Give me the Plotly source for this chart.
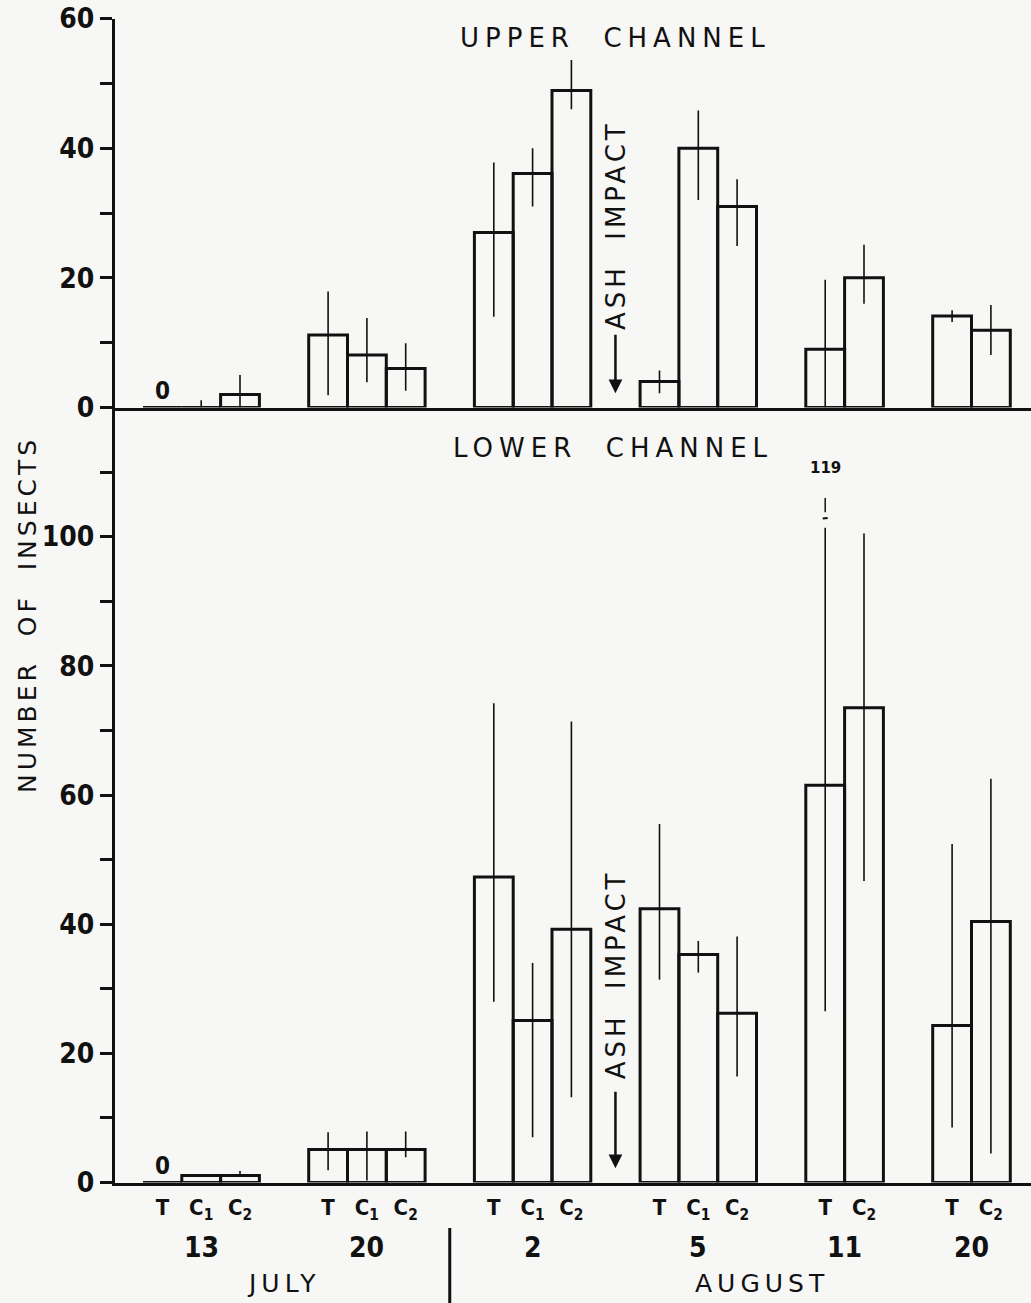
import plotly.graph_objects as go

# ---------------- data ----------------
dates = ["13", "20", "2", "5", "11", "20"]
months = ["JULY", "JULY", "AUGUST", "AUGUST", "AUGUST", "AUGUST"]
sites = [["T", "C1", "C2"], ["T", "C1", "C2"], ["T", "C1", "C2"],
         ["T", "C1", "C2"], ["T", "C2"], ["T", "C2"]]

upper_mean = [0, 0, 2.0, 11.2, 8.1, 6.0, 27.0, 36.1, 48.9, 4.0, 40.0, 31.0, 9.0, 20.0, 14.1, 11.9]
upper_hi = [0, 1.1, 5.0, 17.9, 13.8, 9.9, 37.8, 40.0, 53.6, 5.7, 45.8, 35.2, 19.7, 25.1, 15.0, 15.8]
upper_lo = [0, 0, 0, 1.9, 3.9, 2.6, 14.0, 31.0, 46.0, 2.2, 32.0, 24.9, 0, 16.0, 13.2, 8.1]

lower_mean = [0, 1.1, 1.1, 5.1, 5.1, 5.1, 47.3, 25.1, 39.2, 42.4, 35.3, 26.2, 61.5, 73.5, 24.3, 40.4]
lower_hi = [0, 1.1, 1.8, 7.8, 7.9, 7.9, 74.2, 34.0, 71.4, 55.5, 37.4, 38.1, 119, 100.5, 52.4, 62.5]
lower_lo = [0, 1.1, 1.1, 1.9, 0.3, 3.9, 28.0, 7.0, 13.2, 31.4, 32.5, 16.4, 26.5, 46.7, 8.5, 4.5]

ash_after_group = 2          # ash impact between Aug 2 and Aug 5
lower_break = 101.4          # error bars above this are drawn broken with value label

# ---------------- layout helpers ----------------
W, H = 1031, 1303
ML = 115
BAR_W = 38.8
GAP = 49.3
START = 28

centers, labels, group_bounds = [], [], []
pos = START
for g in sites:
    s = pos
    for i, site in enumerate(g):
        centers.append(pos + (i + 0.5) * BAR_W)
        labels.append({"T": "T", "C1": "C<sub>1</sub>", "C2": "C<sub>2</sub>"}[site])
    pos += len(g) * BAR_W
    group_bounds.append((s, pos))
    pos += GAP
group_centers = []
k = 0
for g in sites:
    cs = centers[k:k + len(g)]
    group_centers.append(sum(cs) / len(cs))
    k += len(g)

NUM_FONT = "Liberation Sans Narrow, DejaVu Sans Condensed, Noto Sans Condensed, Roboto Condensed, Liberation Sans, sans-serif"
TXT_FONT = "DejaVu Sans, Noto Sans, sans-serif"


def yfrac(px):
    return 1 - px / H


fig = go.Figure()


def add_bars(mean, hi, lo, xa, ya, cap=None):
    plus, minus = [], []
    for m, h, l in zip(mean, hi, lo):
        hh = min(h, cap) if cap is not None else h
        plus.append(max(hh - m, 0))
        minus.append(max(m - l, 0))
    fig.add_trace(go.Bar(
        x=centers, y=mean, width=BAR_W, xaxis=xa, yaxis=ya,
        marker=dict(color="rgba(255,255,255,0)", line=dict(color="#111", width=3)),
        error_y=dict(type="data", symmetric=False, array=plus, arrayminus=minus,
                     color="#111", thickness=1.6, width=0),
        showlegend=False, hoverinfo="skip"))


add_bars(upper_mean, upper_hi, upper_lo, "x2", "y2")
add_bars(lower_mean, lower_hi, lower_lo, "x", "y", cap=lower_break)

bg = "#f7f7f5"
y_low_bot = yfrac(1182.5)
y_mid = yfrac(407.5)
y_up_top = yfrac(18.5)

axis_common = dict(showgrid=False, zeroline=False, linecolor="#111", linewidth=3)
fig.update_layout(
    width=W, height=H, margin=dict(l=ML, r=0, t=0, b=0, autoexpand=False),
    paper_bgcolor=bg, plot_bgcolor=bg, barmode="overlay", showlegend=False,
    xaxis=dict(domain=[0, 1], range=[0, W - ML], anchor="y", showline=True,
               tickvals=centers, ticktext=labels, ticks="outside", ticklen=3,
               tickcolor="rgba(0,0,0,0)",
               tickfont=dict(family=NUM_FONT, size=22, color="#111", weight="bold"),
               **axis_common),
    xaxis2=dict(domain=[0, 1], range=[0, W - ML], anchor="y2", matches="x",
                showline=True, showticklabels=False, ticks="",
                **axis_common),
    yaxis=dict(domain=[y_low_bot, y_mid], range=[0, 120], anchor="x", showline=True,
               tickvals=list(range(0, 120, 10)),
               ticktext=[str(v) if v % 20 == 0 else "" for v in range(0, 120, 10)],
               ticks="outside", ticklen=12, tickwidth=2.5, tickcolor="#111",
               tickfont=dict(family=NUM_FONT, size=28, color="#111", weight="bold"),
               **axis_common),
    yaxis2=dict(domain=[y_mid, y_up_top], range=[0, 60], anchor="x2", showline=True,
                tickvals=list(range(0, 70, 10)),
                ticktext=[str(v) if v % 20 == 0 else "" for v in range(0, 70, 10)],
                ticks="outside", ticklen=12, tickwidth=2.5, tickcolor="#111",
                tickfont=dict(family=NUM_FONT, size=28, color="#111", weight="bold"),
                **axis_common),
)

ann = []
sp = '<span style="letter-spacing:%dpx">%s</span>'
C = dict(xanchor="center", yanchor="middle", showarrow=False)
# panel titles
ann.append(dict(text=sp % (6, "UPPER&nbsp;&nbsp;CHANNEL"), x=(615 - ML) / (W - ML), y=yfrac(38),
                xref="paper", yref="paper", font=dict(family=TXT_FONT, size=26, color="#111"), **C))
ann.append(dict(text=sp % (6, "LOWER&nbsp;&nbsp;CHANNEL"), x=(613 - ML) / (W - ML), y=yfrac(448),
                xref="paper", yref="paper", font=dict(family=TXT_FONT, size=26, color="#111"), **C))
# y title
ann.append(dict(text=sp % (4, "NUMBER&nbsp;&nbsp;OF&nbsp;&nbsp;INSECTS"), x=(28 - ML) / (W - ML), y=yfrac(615),
                xref="paper", yref="paper", textangle=-90,
                font=dict(family=TXT_FONT, size=25, color="#111"), **C))

# ash impact markers
gx = (group_bounds[ash_after_group][1] + group_bounds[ash_after_group + 1][0]) / 2
for ya, ytext, ay in (("y2", 28.2, -60), ("y", 32.3, -78)):
    ann.append(dict(text=sp % (4, "ASH&nbsp;&nbsp;IMPACT"), x=gx, y=ytext, xref="x", yref=ya,
                    textangle=-90, font=dict(family=TXT_FONT, size=26, color="#111"), **C))
    ann.append(dict(text="", x=gx, y=2.2, xref="x", yref=ya, showarrow=True,
                    ax=0, ay=ay, arrowhead=2, arrowsize=1.1, arrowwidth=2.5, arrowcolor="#111"))

# zero value labels
for mean, hi, ya in ((upper_mean, upper_hi, "y2"), (lower_mean, lower_hi, "y")):
    for c, m, h in zip(centers, mean, hi):
        if m == 0 and h == 0:
            ann.append(dict(text="0", x=c, y=0, xref="x", yref=ya, yanchor="bottom", xanchor="center",
                            yshift=1, showarrow=False,
                            font=dict(family=NUM_FONT, size=24, color="#111", weight="bold")))

# broken error bar value label
for c, h in zip(centers, lower_hi):
    if h > lower_break:
        ann.append(dict(text=str(h), x=c, y=lower_break + 7.5, xref="x", yref="y",
                        yanchor="bottom", xanchor="center", showarrow=False,
                        font=dict(family=TXT_FONT, size=15, color="#111", weight="bold")))
        fig.add_trace(go.Scatter(x=[c, c], y=[lower_break + 2.4, lower_break + 4.6],
                                 xaxis="x", yaxis="y", mode="lines",
                                 line=dict(color="#111", width=1.5),
                                 showlegend=False, hoverinfo="skip"))
        fig.add_trace(go.Scatter(x=[c - 2.5, c + 2.5], y=[lower_break + 1.4, lower_break + 1.5],
                                 xaxis="x", yaxis="y", mode="lines",
                                 line=dict(color="#111", width=2),
                                 showlegend=False, hoverinfo="skip"))

# dates and months
for d, gcx in zip(dates, group_centers):
    ann.append(dict(text=d, x=gcx, y=yfrac(1247), xref="x", yref="paper",
                    font=dict(family=NUM_FONT, size=28, color="#111", weight="bold"), **C))
for mth in dict.fromkeys(months):
    xs = [gcx for gcx, mm in zip(group_centers, months) if mm == mth]
    ann.append(dict(text=sp % (5, mth), x=sum(xs) / len(xs), y=yfrac(1283), xref="x", yref="paper",
                    font=dict(family=TXT_FONT, size=25, color="#111"), **C))

# month separator
last_july = max(i for i, mm in enumerate(months) if mm == "JULY")
sep_x = (group_bounds[last_july][1] + group_bounds[last_july + 1][0]) / 2
fig.add_shape(type="line", x0=sep_x, x1=sep_x, y0=yfrac(1228), y1=0, xref="x", yref="paper",
              line=dict(color="#111", width=3))

fig.update_layout(annotations=ann)
fig.write_html("out.html")
